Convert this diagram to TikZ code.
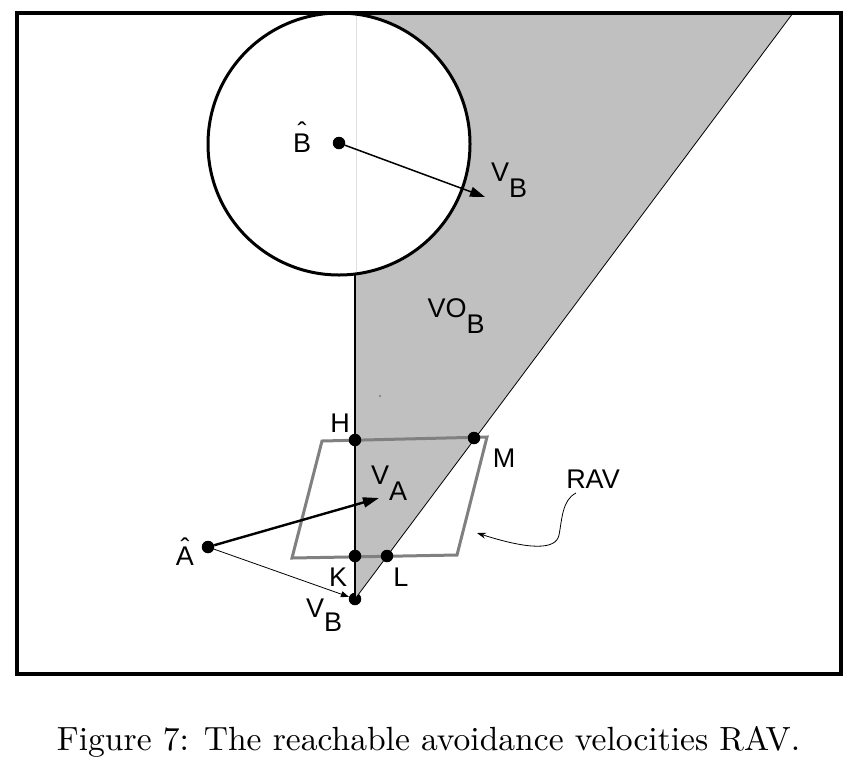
\documentclass[tikz,border=0pt]{standalone}
\usepackage{graphicx}
\usepackage{fontspec}
\newfontfamily\arialf{Liberation Sans}
\usetikzlibrary{arrows.meta}
\definecolor{conegray}{RGB}{192,192,192}
\definecolor{ravgray}{RGB}{128,128,128}
\newcommand{\hatted}[2]{\ooalign{#1\cr\hidewidth\raisebox{#2}{ˆ}\hidewidth\cr}}
\begin{document}
\begin{tikzpicture}[x=1pt,y=-1pt,
  lab/.style={font=\arialf\fontsize{27}{32}\selectfont, inner sep=0pt},
  dot/.style={circle, fill=black, inner sep=0pt, minimum size=12.5pt},
  frame/.style={line width=4pt},
  thinline/.style={line width=0.8pt},
]
\useasboundingbox (0,0) rectangle (858,764);
% cone VO_B
\coordinate (conetop) at (793,13);
\coordinate (coneleft) at (355,13);
\node[dot] (VB) at (355,599) {};
\fill[conegray] (VB.center) -- (coneleft) -- (conetop) -- cycle;
% obstacle circle
\draw[line width=3pt, fill=white] (339,144) circle (131pt);
\draw[black!12, line width=0.6pt] (356,16) -- (356,272);
\coordinate (cbot) at (355,275);
\draw[line width=1.3pt] (cbot) -- (VB.center);
\draw[thinline] (VB.center) -- (conetop);
\fill[black!45] (380,396) circle (1.3pt);
% RAV parallelogram
\draw[ravgray, line width=3pt] (322,441) -- (487,437) -- (457,555) -- (292,558) -- cycle;
% points
\node[dot] (Bh) at (339,143) {};
\node[dot] (Ah) at (208,547) {};
\node[dot] (H) at (355,440) {};
\node[dot] (M) at (474,438) {};
\node[dot] (K) at (355,556) {};
\node[dot] (L) at (387,556) {};
% arrows
\coordinate (vbtip) at (485,197);
\coordinate (vatip) at (379,498);
\draw[line width=1.5pt, -{Triangle[length=15pt,width=10pt]}] (Bh) -- (vbtip);
\draw[line width=2.4pt, -{Triangle[length=16pt,width=10pt]}] (Ah) -- (vatip);
\draw[thinline, -{Triangle[length=8pt,width=6pt]}] (Ah) -- (VB);
% labels
\node[lab] (lH) at (340,423) {H};
\node[lab] (lM) at (504,458) {M};
\node[lab] (lK) at (338,577) {K};
\node[lab] (lL) at (401,577) {L};
\node[lab] (lRAV) at (593,479) {RAV};
\node[lab, anchor=base west] (lVBu) at (491,181.5) {V\raisebox{-16pt}{B}};
\node[lab, anchor=base west] (lVO) at (427.5,317.5) {VO\raisebox{-16pt}{B}};
\node[lab, anchor=base west] (lVA) at (371,484.5) {V\raisebox{-16pt}{A}};
\node[lab, anchor=base west] (lVBl) at (306,617.5) {V\raisebox{-14pt}{B}};
\node[lab, anchor=base] (lBh) at (302,152.5) {\hatted{B}{11pt}};
\node[lab, anchor=base] (lAh) at (185,565) {\hatted{A}{8pt}};
% RAV pointer
\coordinate (ravs) at (576,493);
\coordinate (ravt) at (477,533);
\draw[thinline, -{Stealth[length=9pt,width=6pt]}] (ravs) .. controls (562,500) and (562,520) .. (559,535) .. controls (556,550) and (530,550) .. (ravt);
% frame
\draw[frame] (17,13) rectangle (841,674);
% caption
\node[anchor=base, inner sep=0pt] (cap) at (428.5,750) {\resizebox{743pt}{!}{Figure 7: The reachable avoidance velocities RAV.}};
\end{tikzpicture}
\end{document}
